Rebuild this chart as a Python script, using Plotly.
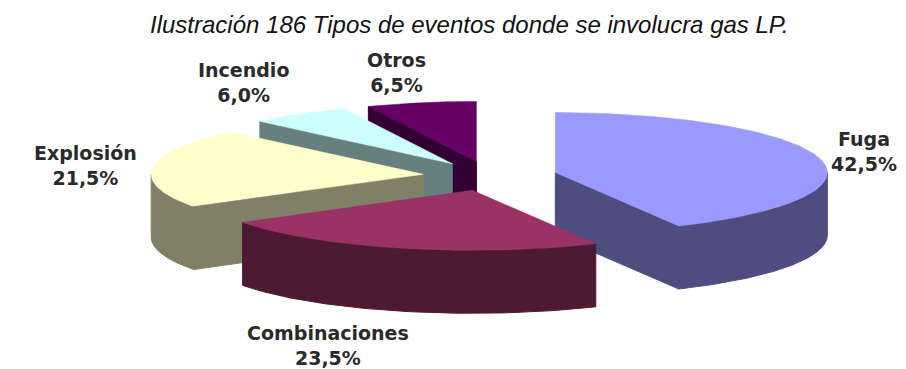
import numpy as np
import plotly.graph_objects as go

categories = ["Fuga", "Combinaciones", "Explosión", "Incendio", "Otros"]
values = [42.5, 23.5, 21.5, 6.0, 6.5]
percent_labels = ["42,5%", "23,5%", "21,5%", "6,0%", "6,5%"]
top_colors = ["#9999FF", "#993366", "#FFFFCC", "#CCFFFF", "#660066"]
side_colors = ["#4D4D80", "#4D1A33", "#808066", "#668080", "#330033"]
label_pos = [(864, 151), (328, 345), (85, 165), (243, 82), (396, 72)]

W, H = 906, 369
CX, CY, RX, RY, DEPTH, EXPLODE = 490, 176, 272, 60, 63, 0.247


def pt(ax, ay, deg):
    r = np.radians(deg)
    return ax + RX * np.sin(r), ay - RY * np.cos(r)


def poly(fig, xs, ys, color, width=0.5):
    fig.add_trace(go.Scatter(x=xs, y=ys, mode="lines", fill="toself", fillcolor=color,
                             line=dict(color=color, width=width), hoverinfo="skip", showlegend=False))


fig = go.Figure()
edges = np.cumsum([0] + values) * 3.6
slices = []
for i in range(len(values)):
    a0, a1 = edges[i], edges[i + 1]
    mid = np.radians((a0 + a1) / 2)
    ax = CX + EXPLODE * RX * np.sin(mid)
    ay = CY - EXPLODE * RY * np.cos(mid)
    slices.append((i, a0, a1, ax, ay))

# painter's order: back slices first
for i in [4, 3, 2, 0, 1]:
    _, a0, a1, ax, ay = slices[i]
    mx, my = pt(ax, ay, (a0 + a1) / 2)
    # cut walls: only those facing the viewer (slice interior lies above the edge)
    for a in (a0, a1):
        px, py = pt(ax, ay, a)
        dx, dy = px - ax, py - ay
        if abs(dx) < 1e-6:
            continue
        if (dx * (my - ay) - dy * (mx - ax)) * np.sign(dx) < 0:
            poly(fig, [ax, px, px, ax, ax], [ay, py, py + DEPTH, ay + DEPTH, ay], side_colors[i], 1)
    # outer wall: the front-facing part of the rim
    t = np.linspace(max(a0, 90), min(a1, 270), 120)
    if t[-1] > t[0]:
        x0, y0 = pt(ax, ay, t)
        xs = np.r_[x0, x0[::-1], x0[0]]
        ys = np.r_[y0, y0[::-1] + DEPTH, y0[0]]
        poly(fig, xs, ys, side_colors[i], 1)
    # top face
    t = np.linspace(a0, a1, 160)
    x0, y0 = pt(ax, ay, t)
    poly(fig, np.r_[ax, x0, ax], np.r_[ay, y0, ay], top_colors[i])

for (x, y), c, p in zip(label_pos, categories, percent_labels):
    fig.add_annotation(x=x, y=y, text=f"<b>{c}<br>{p}</b>", showarrow=False,
                       font=dict(family="DejaVu Sans", size=19, color="#2A2A2A"), align="center")

fig.add_annotation(x=469, y=24, text="<i>Ilustración 186 Tipos de eventos donde se involucra gas LP.</i>",
                   showarrow=False, font=dict(family="Liberation Sans", size=24, color="#111111"))

fig.update_layout(width=W, height=H, margin=dict(l=0, r=0, t=0, b=0), autosize=False,
                  paper_bgcolor="white", plot_bgcolor="white",
                  xaxis=dict(range=[0, W], visible=False),
                  yaxis=dict(range=[H, 0], visible=False))
fig.write_html("out.html", config={"displayModeBar": False},
               post_script="document.body.style.margin='0';document.body.style.overflow='hidden';")
